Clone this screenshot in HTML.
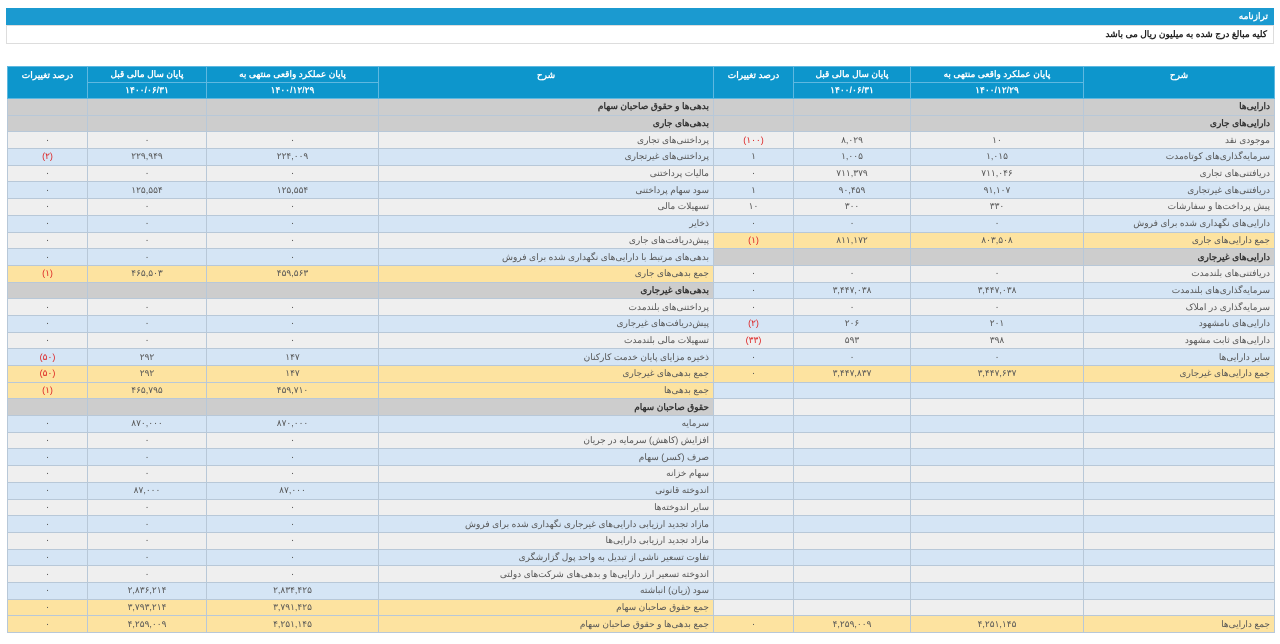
<!DOCTYPE html>
<html><head><meta charset="utf-8"><style>
body{margin:0;width:1280px;height:644px;background:#fff;font-family:"Liberation Sans","Noto Sans CJK SC",sans-serif;font-size:9px;color:#555;overflow:hidden;position:relative}
.bar{position:absolute;left:6px;top:8px;width:1268px;height:17px;background:#1b9ad0;color:#fff;font-weight:bold;direction:rtl;text-align:right;line-height:17px;font-size:9px}
.bar span{padding-right:6px}
.note{position:absolute;left:6px;top:25px;width:1266px;height:17px;border:1px solid #ddd;direction:rtl;text-align:right;line-height:17px;font-weight:bold;color:#222}
.note span{padding-right:6px}
table{position:absolute;left:7px;top:66px;width:1267px;border-collapse:collapse;table-layout:fixed}
td{border:1px solid #b8c8d8;padding:0 4px;text-align:center;height:15.69px;line-height:15px;white-space:nowrap;overflow:hidden}
tr.h td{background:#0d96cc;color:#fff;font-weight:bold;border-color:#5fb8e0;height:15px}
tr.h td[rowspan]{vertical-align:top;padding-top:1px}
td.d{direction:rtl;text-align:right}
.w{background:#efefef}.b{background:#d5e5f5}.g{background:#cdcdcd;color:#333;font-weight:bold}.y{background:#fde3a0}
.r{color:#d22}
</style></head><body>
<div class="bar"><span>ترازنامه</span></div>
<div class="note"><span>کلیه مبالغ درج شده به میلیون ریال می باشد</span></div>
<table>
<colgroup><col style="width:80px"><col style="width:119px"><col style="width:172px"><col style="width:335px"><col style="width:80px"><col style="width:117px"><col style="width:173px"><col style="width:191px"></colgroup>
<tr class="h"><td rowspan="2">درصد تغییرات</td><td>پایان سال مالی قبل</td><td>پایان عملکرد واقعی منتهی به</td><td rowspan="2">شرح</td><td rowspan="2">درصد تغییرات</td><td>پایان سال مالی قبل</td><td>پایان عملکرد واقعی منتهی به</td><td rowspan="2">شرح</td></tr>
<tr class="h"><td>۱۴۰۰/۰۶/۳۱</td><td>۱۴۰۰/۱۲/۲۹</td><td>۱۴۰۰/۰۶/۳۱</td><td>۱۴۰۰/۱۲/۲۹</td></tr>
<tr><td class="g"></td><td class="g"></td><td class="g"></td><td class="g d">بدهی‌ها و حقوق صاحبان سهام</td><td class="g"></td><td class="g"></td><td class="g"></td><td class="g d">دارایی‌ها</td></tr>
<tr><td class="g"></td><td class="g"></td><td class="g"></td><td class="g d">بدهی‌های جاری</td><td class="g"></td><td class="g"></td><td class="g"></td><td class="g d">دارایی‌های جاری</td></tr>
<tr><td class="w">۰</td><td class="w">۰</td><td class="w">۰</td><td class="w d">پرداختنی‌های تجاری</td><td class="w r">(۱۰۰)</td><td class="w">۸,۰۲۹</td><td class="w">۱۰</td><td class="w d">موجودی نقد</td></tr>
<tr><td class="b r">(۲)</td><td class="b">۲۲۹,۹۴۹</td><td class="b">۲۲۴,۰۰۹</td><td class="b d">پرداختنی‌های غیرتجاری</td><td class="b">۱</td><td class="b">۱,۰۰۵</td><td class="b">۱,۰۱۵</td><td class="b d">سرمایه‌گذاری‌های کوتاه‌مدت</td></tr>
<tr><td class="w">۰</td><td class="w">۰</td><td class="w">۰</td><td class="w d">مالیات پرداختنی</td><td class="w">۰</td><td class="w">۷۱۱,۳۷۹</td><td class="w">۷۱۱,۰۴۶</td><td class="w d">دریافتنی‌های تجاری</td></tr>
<tr><td class="b">۰</td><td class="b">۱۲۵,۵۵۴</td><td class="b">۱۲۵,۵۵۴</td><td class="b d">سود سهام پرداختنی</td><td class="b">۱</td><td class="b">۹۰,۴۵۹</td><td class="b">۹۱,۱۰۷</td><td class="b d">دریافتنی‌های غیرتجاری</td></tr>
<tr><td class="w">۰</td><td class="w">۰</td><td class="w">۰</td><td class="w d">تسهیلات مالی</td><td class="w">۱۰</td><td class="w">۳۰۰</td><td class="w">۳۳۰</td><td class="w d">پیش پرداخت‌ها و سفارشات</td></tr>
<tr><td class="b">۰</td><td class="b">۰</td><td class="b">۰</td><td class="b d">ذخایر</td><td class="b">۰</td><td class="b">۰</td><td class="b">۰</td><td class="b d">دارایی‌های نگهداری شده برای فروش</td></tr>
<tr><td class="w">۰</td><td class="w">۰</td><td class="w">۰</td><td class="w d">پیش‌دریافت‌های جاری</td><td class="y r">(۱)</td><td class="y">۸۱۱,۱۷۲</td><td class="y">۸۰۳,۵۰۸</td><td class="y d">جمع دارایی‌های جاری</td></tr>
<tr><td class="b">۰</td><td class="b">۰</td><td class="b">۰</td><td class="b d">بدهی‌های مرتبط با دارایی‌های نگهداری شده برای فروش</td><td class="g"></td><td class="g"></td><td class="g"></td><td class="g d">دارایی‌های غیرجاری</td></tr>
<tr><td class="y r">(۱)</td><td class="y">۴۶۵,۵۰۳</td><td class="y">۴۵۹,۵۶۳</td><td class="y d">جمع بدهی‌های جاری</td><td class="w">۰</td><td class="w">۰</td><td class="w">۰</td><td class="w d">دریافتنی‌های بلندمدت</td></tr>
<tr><td class="g"></td><td class="g"></td><td class="g"></td><td class="g d">بدهی‌های غیرجاری</td><td class="b">۰</td><td class="b">۳,۴۴۷,۰۳۸</td><td class="b">۳,۴۴۷,۰۳۸</td><td class="b d">سرمایه‌گذاری‌های بلندمدت</td></tr>
<tr><td class="w">۰</td><td class="w">۰</td><td class="w">۰</td><td class="w d">پرداختنی‌های بلندمدت</td><td class="w">۰</td><td class="w">۰</td><td class="w">۰</td><td class="w d">سرمایه‌گذاری در املاک</td></tr>
<tr><td class="b">۰</td><td class="b">۰</td><td class="b">۰</td><td class="b d">پیش‌دریافت‌های غیرجاری</td><td class="b r">(۲)</td><td class="b">۲۰۶</td><td class="b">۲۰۱</td><td class="b d">دارایی‌های نامشهود</td></tr>
<tr><td class="w">۰</td><td class="w">۰</td><td class="w">۰</td><td class="w d">تسهیلات مالی بلندمدت</td><td class="w r">(۳۳)</td><td class="w">۵۹۳</td><td class="w">۳۹۸</td><td class="w d">دارایی‌های ثابت مشهود</td></tr>
<tr><td class="b r">(۵۰)</td><td class="b">۲۹۲</td><td class="b">۱۴۷</td><td class="b d">ذخیره مزایای پایان خدمت کارکنان</td><td class="b">۰</td><td class="b">۰</td><td class="b">۰</td><td class="b d">سایر دارایی‌ها</td></tr>
<tr><td class="y r">(۵۰)</td><td class="y">۲۹۲</td><td class="y">۱۴۷</td><td class="y d">جمع بدهی‌های غیرجاری</td><td class="y">۰</td><td class="y">۳,۴۴۷,۸۳۷</td><td class="y">۳,۴۴۷,۶۳۷</td><td class="y d">جمع دارایی‌های غیرجاری</td></tr>
<tr><td class="y r">(۱)</td><td class="y">۴۶۵,۷۹۵</td><td class="y">۴۵۹,۷۱۰</td><td class="y d">جمع بدهی‌ها</td><td class="b"></td><td class="b"></td><td class="b"></td><td class="b"></td></tr>
<tr><td class="g"></td><td class="g"></td><td class="g"></td><td class="g d">حقوق صاحبان سهام</td><td class="w"></td><td class="w"></td><td class="w"></td><td class="w"></td></tr>
<tr><td class="b">۰</td><td class="b">۸۷۰,۰۰۰</td><td class="b">۸۷۰,۰۰۰</td><td class="b d">سرمایه</td><td class="b"></td><td class="b"></td><td class="b"></td><td class="b"></td></tr>
<tr><td class="w">۰</td><td class="w">۰</td><td class="w">۰</td><td class="w d">افزایش (کاهش) سرمایه در جریان</td><td class="w"></td><td class="w"></td><td class="w"></td><td class="w"></td></tr>
<tr><td class="b">۰</td><td class="b">۰</td><td class="b">۰</td><td class="b d">صرف (کسر) سهام</td><td class="b"></td><td class="b"></td><td class="b"></td><td class="b"></td></tr>
<tr><td class="w">۰</td><td class="w">۰</td><td class="w">۰</td><td class="w d">سهام خزانه</td><td class="w"></td><td class="w"></td><td class="w"></td><td class="w"></td></tr>
<tr><td class="b">۰</td><td class="b">۸۷,۰۰۰</td><td class="b">۸۷,۰۰۰</td><td class="b d">اندوخته قانونی</td><td class="b"></td><td class="b"></td><td class="b"></td><td class="b"></td></tr>
<tr><td class="w">۰</td><td class="w">۰</td><td class="w">۰</td><td class="w d">سایر اندوخته‌ها</td><td class="w"></td><td class="w"></td><td class="w"></td><td class="w"></td></tr>
<tr><td class="b">۰</td><td class="b">۰</td><td class="b">۰</td><td class="b d">مازاد تجدید ارزیابی دارایی‌های غیرجاری نگهداری شده برای فروش</td><td class="b"></td><td class="b"></td><td class="b"></td><td class="b"></td></tr>
<tr><td class="w">۰</td><td class="w">۰</td><td class="w">۰</td><td class="w d">مازاد تجدید ارزیابی دارایی‌ها</td><td class="w"></td><td class="w"></td><td class="w"></td><td class="w"></td></tr>
<tr><td class="b">۰</td><td class="b">۰</td><td class="b">۰</td><td class="b d">تفاوت تسعیر ناشی از تبدیل به واحد پول گزارشگری</td><td class="b"></td><td class="b"></td><td class="b"></td><td class="b"></td></tr>
<tr><td class="w">۰</td><td class="w">۰</td><td class="w">۰</td><td class="w d">اندوخته تسعیر ارز دارایی‌ها و بدهی‌های شرکت‌های دولتی</td><td class="w"></td><td class="w"></td><td class="w"></td><td class="w"></td></tr>
<tr><td class="b">۰</td><td class="b">۲,۸۳۶,۲۱۴</td><td class="b">۲,۸۳۴,۴۲۵</td><td class="b d">سود (زیان) انباشته</td><td class="b"></td><td class="b"></td><td class="b"></td><td class="b"></td></tr>
<tr><td class="y">۰</td><td class="y">۳,۷۹۳,۲۱۴</td><td class="y">۳,۷۹۱,۴۲۵</td><td class="y d">جمع حقوق صاحبان سهام</td><td class="w"></td><td class="w"></td><td class="w"></td><td class="w"></td></tr>
<tr><td class="y">۰</td><td class="y">۴,۲۵۹,۰۰۹</td><td class="y">۴,۲۵۱,۱۴۵</td><td class="y d">جمع بدهی‌ها و حقوق صاحبان سهام</td><td class="y">۰</td><td class="y">۴,۲۵۹,۰۰۹</td><td class="y">۴,۲۵۱,۱۴۵</td><td class="y d">جمع دارایی‌ها</td></tr>
</table>
</body></html>
